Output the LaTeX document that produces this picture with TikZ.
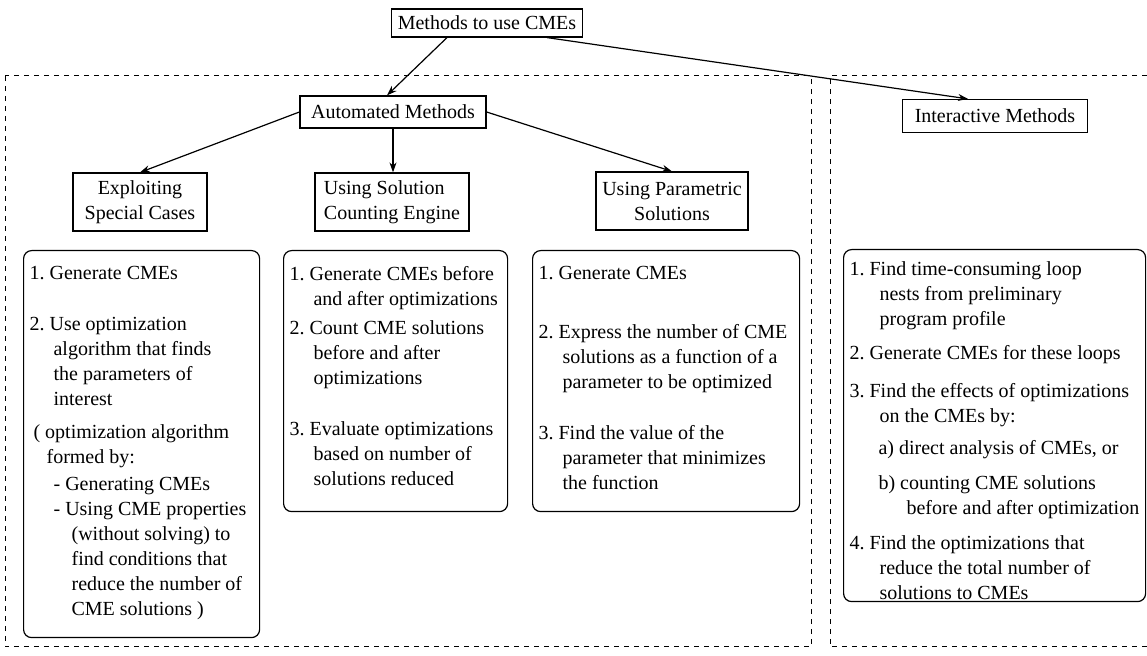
\documentclass[tikz,border=0pt]{standalone}
\usepackage{fontspec}
\setmainfont{Liberation Serif}
\usetikzlibrary{arrows.meta}

\newlength{\stepindent}
\setlength{\stepindent}{12pt}
\newcommand{\stepitem}[2]{\par\hangindent=\stepindent\hangafter=1\noindent#1 #2\par}

\begin{document}
\begin{tikzpicture}[
    x=0.5pt, y=-0.5pt,
    every node/.style={font=\fontsize{10}{12.5}\selectfont\frenchspacing},
    head/.style={
        draw, line width=0.6pt,
        inner sep=2pt, align=center
    },
    stepsbox/.style={
        draw, line width=0.6pt, rounded corners=4pt,
        anchor=north west, inner xsep=3pt, inner ysep=8pt
    },
    region/.style={line width=0.5pt, dash pattern=on 2.5pt off 2.5pt},
    arr/.style={-{Stealth[length=5pt,width=3.5pt]}, line width=0.6pt}
]
\useasboundingbox (0,0) rectangle (1147,656);

% Regioes tracejadas
\draw[region] (5,76) rectangle (811,647);
\draw[region] (1147,76) -- (830,76) -- (830,647) -- (1147,647);

% Topo
\node[head, minimum width=95.5pt, minimum height=14pt] (methods) at (487,23) {Methods to use CMEs};

% Metodos
\node[head, minimum width=93pt, minimum height=16pt] (auto) at (393,112) {Automated Methods};
\node[head, minimum width=92.5pt, minimum height=16.5pt] (inter) at (995,116) {Interactive Methods};

\draw[arr] ([xshift=-20pt]methods.south) -- ([xshift=-3pt]auto.north);
\draw[arr] ([xshift=30pt]methods.south) -- ([xshift=-13.5pt]inter.north);

% Casos automaticos
\node[head, minimum width=67pt, minimum height=29pt] (exploit) at (140,202) {Exploiting\\Special Cases};
\node[head, minimum width=77pt, minimum height=29pt, align=left] (count) at (392,202) {Using Solution\\Counting Engine};
\node[head, minimum width=76pt, minimum height=29pt] (param) at (672,201) {Using Parametric\\Solutions};

\draw[arr] (auto.west) -- (exploit.north);
\draw[arr] (auto.south) -- (auto.south |- count.north);
\draw[arr] (auto.east) -- (param.north);

% Passos
\node[stepsbox] (exploitsteps) at (23,250) {\parbox[t][177.5pt][t]{112pt}{%
    \stepitem{1.}{Generate CMEs}\vspace{13pt}
    \stepitem{2.}{Use optimization\newline algorithm that finds\newline the parameters of\newline interest}\vspace{4pt}
    \hspace*{2pt}( optimization algorithm\newline\hspace*{8.5pt}formed by:\par\vspace{1pt}
    \hspace*{12pt}- Generating CMEs\par
    \hspace*{12pt}- Using CME properties\newline
    \hspace*{21pt}(without solving) to\newline
    \hspace*{21pt}find conditions that\newline
    \hspace*{21pt}reduce the number of\newline
    \hspace*{21pt}CME solutions )\par}};

\node[stepsbox] (countsteps) at (283,250) {\parbox[t][114.5pt][t]{106pt}{%
    \stepitem{1.}{Generate CMEs before\newline and after optimizations}\vspace{2pt}
    \stepitem{2.}{Count CME solutions\newline before and after\newline optimizations}\vspace{13pt}
    \stepitem{3.}{Evaluate optimizations\newline based on number of\newline solutions reduced}}};

\node[stepsbox] (paramsteps) at (532,250) {\parbox[t][114.5pt][t]{127.5pt}{%
    \stepitem{1.}{Generate CMEs}\vspace{17pt}
    \stepitem{2.}{Express the number of CME\newline solutions as a function of a\newline parameter to be optimized}\vspace{13pt}
    \stepitem{3.}{Find the value of the\newline parameter that minimizes\newline the function}}};

\node[stepsbox, inner ysep=6pt] (intersteps) at (843,249) {\parbox[t][164pt][t]{145pt}{%
    \setlength{\stepindent}{15pt}%
    \stepitem{1.}{Find time-consuming loop\newline nests from preliminary\newline program profile}\vspace{4.5pt}
    \stepitem{2.}{Generate CMEs for these loops}\vspace{6.5pt}
    \stepitem{3.}{Find the effects of optimizations\newline on the CMEs by:}\vspace{3.5pt}
    \hspace*{14.5pt}a) direct analysis of CMEs, or\par\vspace{5pt}
    \hspace*{14.5pt}b) counting CME solutions\newline
    \hspace*{28.5pt}before and after optimization\par\vspace{5pt}
    \stepitem{4.}{Find the optimizations that\newline reduce the total number of\newline solutions to CMEs}}};

\end{tikzpicture}
\end{document}
